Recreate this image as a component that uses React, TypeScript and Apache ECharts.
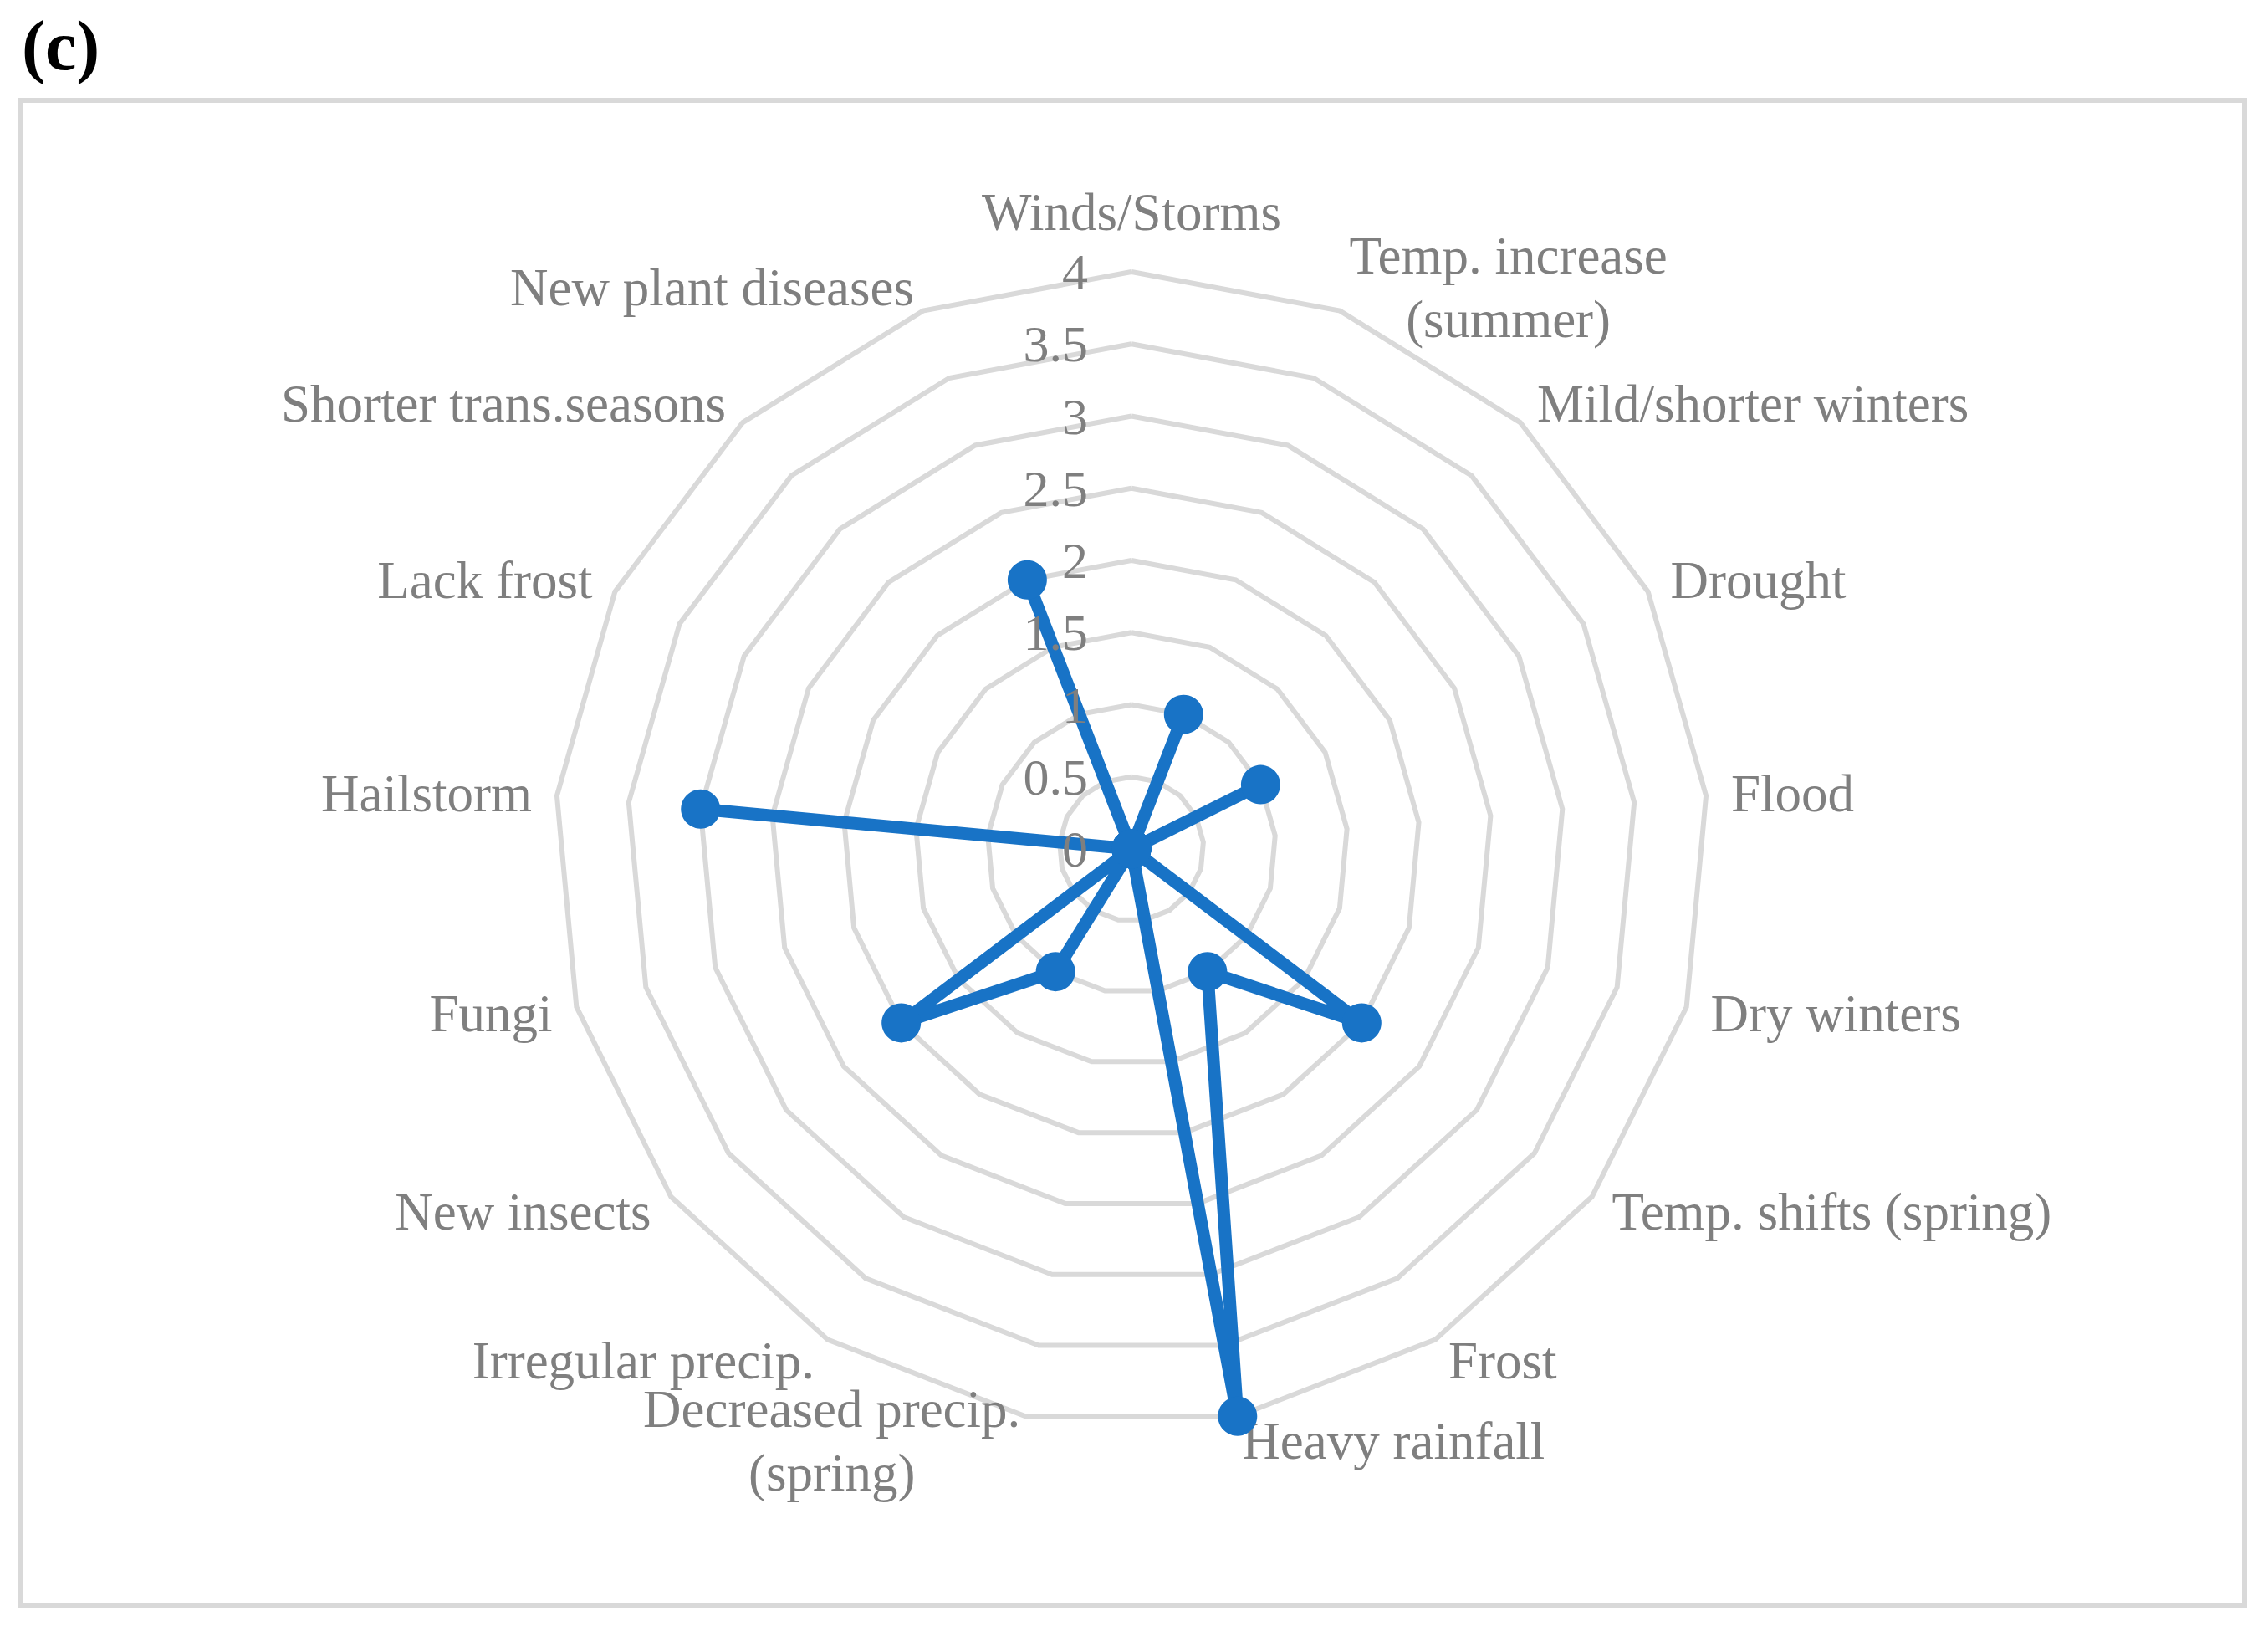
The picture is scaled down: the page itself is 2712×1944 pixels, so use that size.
import React, { useEffect, useRef } from 'react';
import * as echarts from 'echarts';

// ---- data ----
const categories: string[] = [
  'Winds/Storms',
  'Temp. increase\n(summer)',
  'Mild/shorter winters',
  'Drought',
  'Flood',
  'Dry winters',
  'Temp. shifts (spring)',
  'Frost',
  'Heavy rainfall',
  'Decreased precip.\n(spring)',
  'Irregular precip.',
  'New insects',
  'Fungi',
  'Hailstorm',
  'Lack frost',
  'Shorter trans.seasons',
  'New plant diseases',
];
const values: number[] = [0, 1, 0, 1, 0, 0, 2, 1, 4, 0, 1, 2, 0, 3, 0, 0, 2];
const axisMin = 0;
const axisMax = 4;
const axisSplits = 8;
const panelLabel = '(c)';

// ---- styles ----
const FONT = '"Liberation Serif", "Times New Roman", serif';
const GRAY = '#7f7f7f';
const GRID = '#d9d9d9';
const BLUE = '#1873c6';
const NAME_SIZE = 63;
const LABEL_SIZE = 62;

function measure(text: string, font: string): number {
  const ctx = document.createElement('canvas').getContext('2d');
  if (!ctx) return text.length * NAME_SIZE * 0.45;
  ctx.font = font;
  return ctx.measureText(text).width;
}

export default function App() {
  const ref = useRef<HTMLDivElement>(null);

  useEffect(() => {
    if (!ref.current) return;
    const chart = echarts.init(ref.current, null, { renderer: 'svg' });
    const nameFont = `${NAME_SIZE}px ${FONT}`;

    // ECharts lays radar indicators out counter-clockwise; the reference is clockwise.
    const order = [0, ...categories.slice(1).map((_, k) => categories.length - 1 - k)];

    const gridIndicator = order.map((idx) => {
      const name = categories[idx];
      const ind: any = { name, min: axisMin, max: axisMax };
      if (idx === 0) ind.nameGap = 40;
      if (name.includes('\n')) {
        const w = Math.ceil(Math.max(...name.split('\n').map((l) => measure(l, nameFont))));
        ind.nameTextStyle = {
          rich: {
            c: {
              width: w,
              align: 'center',
              fontSize: NAME_SIZE,
              fontFamily: FONT,
              color: GRAY,
              lineHeight: 76,
            },
          },
        };
      }
      return ind;
    });

    // a second, label-only radar drawn above the series (tick labels sit over the line)
    const labelIndicator = order.map((idx) => {
      const ind: any = { name: categories[idx], min: axisMin, max: axisMax };
      if (idx === 0) ind.axisLabel = { show: true };
      return ind;
    });

    const common = {
      center: [1353, 1015],
      radius: 690,
      startAngle: 90,
      shape: 'polygon',
      splitNumber: axisSplits,
      axisLine: { show: false },
      axisTick: { show: false },
      splitArea: { show: false },
    };

    const option: any = {
      animation: false,
      backgroundColor: '#ffffff',
      graphic: [
        {
          type: 'rect',
          z: -10,
          shape: { x: 25, y: 120, width: 2659, height: 1800 },
          style: { fill: 'none', stroke: GRID, lineWidth: 6 },
        },
        {
          type: 'text',
          x: 26,
          y: 54,
          style: {
            text: panelLabel,
            font: `bold 84px ${FONT}`,
            fill: '#000000',
            textAlign: 'left',
            textVerticalAlign: 'middle',
          },
        },
      ],
      radar: [
        {
          ...common,
          z: 0,
          nameGap: 30,
          axisName: {
            color: GRAY,
            fontSize: NAME_SIZE,
            fontFamily: FONT,
            formatter: (name: string) =>
              name.includes('\n')
                ? name.split('\n').map((l) => `{c|${l}}`).join('\n')
                : name,
          },
          axisLabel: { show: false },
          splitLine: { lineStyle: { color: GRID, width: 6 } },
          indicator: gridIndicator,
        },
        {
          ...common,
          z: 10,
          axisName: { show: false },
          axisLabel: {
            show: false,
            color: GRAY,
            fontSize: LABEL_SIZE,
            fontFamily: FONT,
            margin: 52,
          },
          splitLine: { show: false },
          indicator: labelIndicator,
        },
      ],
      series: [
        {
          type: 'radar',
          radarIndex: 0,
          z: 2,
          symbol: 'circle',
          symbolSize: 47,
          lineStyle: { color: BLUE, width: 15 },
          itemStyle: { color: BLUE },
          data: [{ value: order.map((idx) => values[idx]) }],
        },
      ],
    };

    chart.setOption(option);
    return () => chart.dispose();
  }, []);

  return (
    <div
      ref={ref}
      style={{ position: 'fixed', left: 0, top: 0, width: 2712, height: 1944, background: '#fff' }}
    />
  );
}
